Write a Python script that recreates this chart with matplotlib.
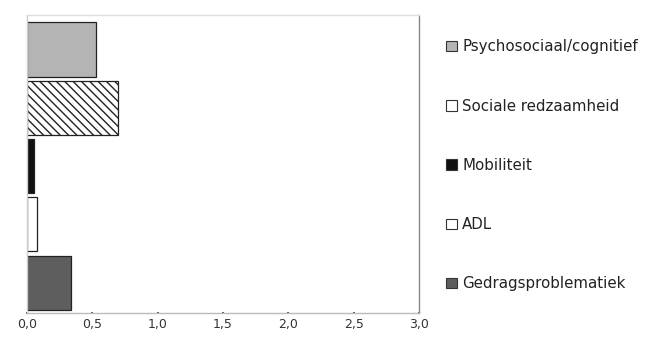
import matplotlib.pyplot as plt
from matplotlib.patches import Patch
from matplotlib.ticker import FuncFormatter

plt.rcParams['font.family'] = ['DejaVu Sans']

categories = ["Gedragsproblematiek", "ADL", "Mobiliteit", "Sociale redzaamheid", "Psychosociaal/cognitief"]
values = [0.34, 0.08, 0.05, 0.70, 0.53]
colors = ["#5e5e5e", "#ffffff", "#111111", "#ffffff", "#b4b4b4"]
hatches = [None, None, None, "\\\\\\\\", None]
xticks = [0.0, 0.5, 1.0, 1.5, 2.0, 2.5, 3.0]

fig = plt.figure(figsize=(6.49, 3.42), dpi=100)
ax = fig.add_axes([0.0416, 0.085, 0.604, 0.871])

for i, (cat, v, c, h) in enumerate(zip(categories, values, colors, hatches)):
    ax.barh(i, v, height=0.93, color=c, edgecolor="#222222", linewidth=0.9,
            hatch=h, label=cat)

ax.set_xlim(0, 3.0)
ax.set_ylim(-0.52, 4.59)
ax.set_yticks([])
ax.set_xticks(xticks)
ax.xaxis.set_major_formatter(FuncFormatter(lambda x, p: f"{x:.1f}".replace(".", ",")))
ax.tick_params(axis="x", length=2, direction="inout", width=1.2, colors="#333333",
               labelsize=9, pad=3)

ax.spines["top"].set_color("#dddddd")
ax.spines["left"].set_color("#cccccc")
ax.spines["right"].set_color("#888888")
ax.spines["bottom"].set_color("#bbbbbb")
for s in ax.spines.values():
    s.set_linewidth(1)

handles = [Patch(facecolor=c, edgecolor="#333333", linewidth=0.8) for c in colors]
leg = fig.legend(handles[::-1], categories[::-1], loc="upper left",
                 bbox_to_anchor=(0.667, 0.924), frameon=False, fontsize=10.8,
                 labelspacing=2.95, handlelength=0.7, handleheight=0.7,
                 handletextpad=0.35)
for t in leg.get_texts():
    t.set_color("#222222")

fig.savefig("out.png", dpi=100)
